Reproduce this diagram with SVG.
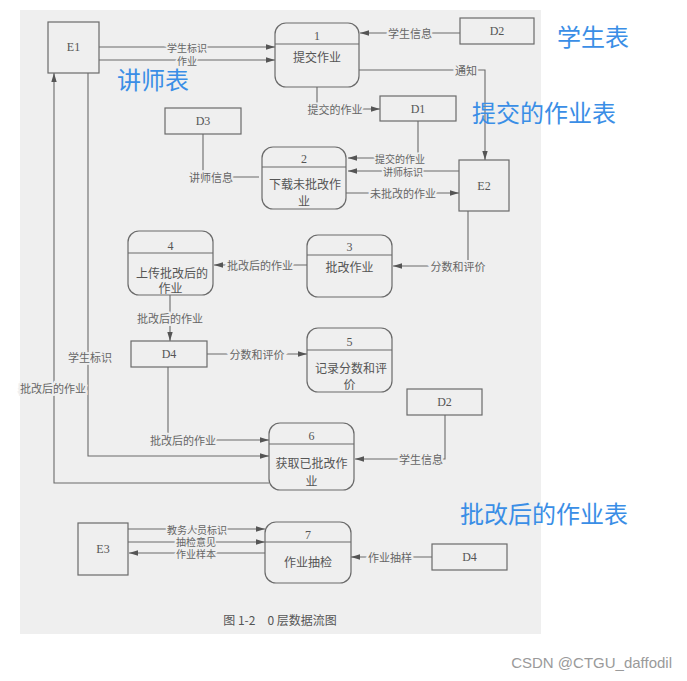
<svg xmlns="http://www.w3.org/2000/svg" width="687" height="681" viewBox="0 0 687 681">
<defs>
<marker id="ar" viewBox="0 0 10 6" refX="10" refY="3" markerWidth="9" markerHeight="5.4" markerUnits="userSpaceOnUse" orient="auto">
<path d="M0,0 L10,3 L0,6 Z" fill="#555"/>
</marker>
<style>
.box{fill:none;stroke:#6a6a6a;stroke-width:1.2}
.div{stroke:#6a6a6a;stroke-width:1.2}
.ln{fill:none;stroke:#6a6a6a;stroke-width:1.1}
.ar{marker-end:url(#ar)}
.t{font-family:"Noto Sans CJK SC","Noto Sans",sans-serif;font-size:12px;fill:#555;text-anchor:middle;dominant-baseline:central}
.n{font-family:"Liberation Serif",serif;font-size:12px;fill:#555;text-anchor:middle;dominant-baseline:central}
.lb{font-family:"Noto Sans CJK SC","Noto Sans",sans-serif;font-size:11px;fill:#666;text-anchor:middle;dominant-baseline:central;stroke:#efefef;stroke-width:4;paint-order:stroke}
.sm{font-size:10px;stroke-width:3}
.blue{font-family:"Noto Sans CJK SC","Noto Sans",sans-serif;font-size:24px;fill:#3a8ee6}
</style>
</defs>
<rect width="687" height="681" fill="#ffffff"/>
<rect x="20" y="10" width="521" height="624" fill="#efefef"/>

<g id="connectors">
<path class="ln ar" d="M99,47 H275"/>
<path class="ln ar" d="M99,60 H275"/>
<path class="ln ar" d="M460,33 H360"/>
<path class="ln ar" d="M359,70 H485 V160"/>
<path class="ln ar" d="M317,87 V109 H380"/>
<path class="ln" d="M203,134 V177 H259"/>
<path class="ln ar" d="M418,121 V158 H348"/>
<path class="ln ar" d="M459,171 H348"/>
<path class="ln ar" d="M346,193 H459"/>
<path class="ln ar" d="M468,211 V266 H393"/>
<path class="ln ar" d="M307,265 H214"/>
<path class="ln ar" d="M170,295 V341"/>
<path class="ln ar" d="M207,354 H307"/>
<path class="ln ar" d="M168,367 V440 H269"/>
<path class="ln ar" d="M88,73 V456 H269"/>
<path class="ln ar" d="M269,483 H54 V73"/>
<path class="ln ar" d="M445,415 V459 H355"/>
<path class="ln ar" d="M128,529 H265"/>
<path class="ln ar" d="M128,542 H265"/>
<path class="ln ar" d="M265,553 H129"/>
<path class="ln ar" d="M432,557 H351"/>

<text class="lb sm" x="187" y="47">学生标识</text>
<text class="lb sm" x="187" y="60">作业</text>
<text class="lb" x="410" y="33">学生信息</text>
<text class="lb" x="466" y="70">通知</text>
<text class="lb" x="335" y="109">提交的作业</text>
<text class="lb" x="211" y="177">讲师信息</text>
<text class="lb sm" x="400" y="158">提交的作业</text>
<text class="lb sm" x="403" y="171">讲师标识</text>
<text class="lb" x="403" y="193">未批改的作业</text>
<text class="lb" x="458" y="266">分数和评价</text>
<text class="lb" x="260" y="265">批改后的作业</text>
<text class="lb" x="170" y="318">批改后的作业</text>
<text class="lb" x="257" y="354">分数和评价</text>
<text class="lb" x="183" y="440">批改后的作业</text>
<text class="lb" x="90" y="357">学生标识</text>
<text class="lb" x="53" y="388">批改后的作业</text>
<text class="lb" x="421" y="459">学生信息</text>
<text class="lb sm" x="197" y="529">教务人员标识</text>
<text class="lb sm" x="196" y="541">抽检意见</text>
<text class="lb sm" x="196" y="553">作业样本</text>
<text class="lb" x="390" y="557">作业抽样</text>
</g>

<g id="E1"><rect class="box" x="48" y="22" width="51" height="51"/><text class="n" x="73.5" y="47">E1</text></g>
<g id="E2"><rect class="box" x="459" y="160" width="50" height="51"/><text class="n" x="484" y="186">E2</text></g>
<g id="E3"><rect class="box" x="78" y="523" width="50" height="52"/><text class="n" x="103" y="549">E3</text></g>

<g id="D2a"><rect class="box" x="460" y="18" width="74" height="26"/><text class="n" x="497" y="31">D2</text></g>
<g id="D1"><rect class="box" x="380" y="96" width="76" height="25"/><text class="n" x="418" y="108.5">D1</text></g>
<g id="D3"><rect class="box" x="165" y="108" width="76" height="26"/><text class="n" x="203" y="121">D3</text></g>
<g id="D4a"><rect class="box" x="131" y="341" width="76" height="26"/><text class="n" x="169" y="354">D4</text></g>
<g id="D2b"><rect class="box" x="407" y="389" width="75" height="26"/><text class="n" x="444.5" y="402">D2</text></g>
<g id="D4b"><rect class="box" x="432" y="544" width="75" height="26"/><text class="n" x="469.5" y="557">D4</text></g>

<g id="P1"><rect class="box" x="275" y="23" width="84" height="64" rx="11"/><line class="div" x1="275" y1="44" x2="359" y2="44"/><text class="n" x="317" y="36">1</text><text class="t" x="317" y="56">提交作业</text></g>
<g id="P2"><rect class="box" x="262" y="147" width="84" height="62" rx="11"/><line class="div" x1="262" y1="167" x2="346" y2="167"/><text class="n" x="304" y="159">2</text><text class="t" x="305" y="183">下载未批改作</text><text class="t" x="304" y="200">业</text></g>
<g id="P3"><rect class="box" x="307" y="235" width="85" height="62" rx="11"/><line class="div" x1="307" y1="255" x2="392" y2="255"/><text class="n" x="349.5" y="247">3</text><text class="t" x="349.5" y="266">批改作业</text></g>
<g id="P4"><rect class="box" x="128" y="231" width="85" height="64" rx="11"/><line class="div" x1="128" y1="253" x2="213" y2="253"/><text class="n" x="170.5" y="246">4</text><text class="t" x="172" y="272">上传批改后的</text><text class="t" x="170.5" y="287">作业</text></g>
<g id="P5"><rect class="box" x="307" y="328" width="85" height="64" rx="11"/><line class="div" x1="307" y1="350" x2="392" y2="350"/><text class="n" x="349.5" y="342">5</text><text class="t" x="351" y="367">记录分数和评</text><text class="t" x="349.5" y="383">价</text></g>
<g id="P6"><rect class="box" x="269" y="423" width="85" height="67" rx="11"/><line class="div" x1="269" y1="444" x2="354" y2="444"/><text class="n" x="311.5" y="436">6</text><text class="t" x="311.5" y="462">获取已批改作</text><text class="t" x="311.5" y="480">业</text></g>
<g id="P7"><rect class="box" x="265" y="522" width="86" height="61" rx="11"/><line class="div" x1="265" y1="542" x2="351" y2="542"/><text class="n" x="308" y="535">7</text><text class="t" x="308" y="561">作业抽检</text></g>

<text x="280" y="619" style="font-family:'Noto Sans CJK SC',sans-serif;font-size:12px;fill:#555;text-anchor:middle;dominant-baseline:central">图 1-2　0 层数据流图</text>

<text class="blue" x="557" y="46">学生表</text>
<text class="blue" x="117" y="89">讲师表</text>
<text class="blue" x="472" y="122">提交的作业表</text>
<text class="blue" x="460" y="523">批改后的作业表</text>

<text x="672" y="668" style="font-family:'Liberation Sans',sans-serif;font-size:15px;fill:#9a9a9a;text-anchor:end">CSDN @CTGU_daffodil</text>
</svg>
